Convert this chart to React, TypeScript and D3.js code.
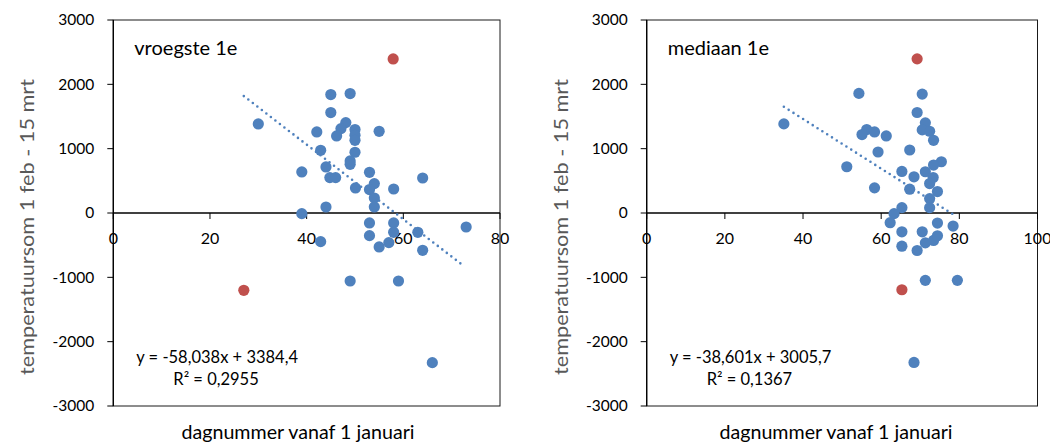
import React from "react";
import * as d3 from "d3";

// ---- data ----
const yTicks = [-3000, -2000, -1000, 0, 1000, 2000, 3000];
const leftXTicks = [0, 20, 40, 60, 80];
const rightXTicks = [0, 20, 40, 60, 80, 100];

// left: "vroegste 1e"
const leftX = [45, 49, 45, 48.1, 47.1, 46.2, 42.1, 50, 50, 50, 55, 50, 42.9, 49, 49, 39, 44, 44.8, 46, 53, 54, 50.1, 53, 54, 58, 64, 54, 44, 39, 30,
  53, 58, 53, 58, 42.9, 55, 57, 63, 64, 73, 49, 59, 66];
const leftY = [1841, 1857, 1561, 1405, 1312, 1198, 1260, 1297, 1208, 1130, 1270, 944, 975, 809, 757, 638, 716, 550, 550, 633, 457, 389, 364, 233, 373, 544, 93, 93, -10, 1384,
  -155, -155, -352, -300, -445, -528, -460, -300, -580, -218, -1057, -1057, -2326];
const leftRedX = [57.9, 27];
const leftRedY = [2395, -1202];

// right: "mediaan 1e"
const rightX = [54.3, 70.5, 69.2, 71.3, 56.3, 55.1, 58.3, 61.3, 70.5, 72.4, 73.4, 59.2, 67.3, 51.2, 75.4, 73.4, 65.3, 71.3, 68.4, 73.3, 72.4, 58.3, 67.3, 74.4, 72.4, 72.4, 65.3, 63.3, 35.1,
  62.3, 65.3, 65.3, 69.2, 70.5, 71.3, 73.4, 74.4, 74.4, 78.4, 71.3, 79.5, 68.4];
const rightY = [1859, 1848, 1562, 1401, 1297, 1219, 1260, 1198, 1292, 1271, 1130, 948, 979, 719, 797, 745, 646, 641, 563, 552, 458, 391, 370, 333, 224, 83, 83, -10, 1385,
  -151, -292, -516, -583, -292, -464, -427, -354, -156, -203, -1047, -1047, -2323];
const rightRedX = [69.2, 65.3];
const rightRedY = [2396, -1193];

const leftTrend = { slope: -58.038, intercept: 3384.4, from: 27, to: 72.3 };
const rightTrend = { slope: -38.601, intercept: 3005.7, from: 35.1, to: 78.4 };

const BLUE = "#4F81BD";
const RED = "#C0504D";
const FONT = "Lato, 'Open Sans', sans-serif";

type ChartProps = {
  left: number; right: number; xMax: number; xTicks: number[];
  xs: number[]; ys: number[]; rx: number[]; ry: number[];
  trend: { slope: number; intercept: number; from: number; to: number };
  title: string; eq: string; r2: string; xTitleX: number;
};

function Chart(p: ChartProps) {
  const top = 20, bottom = 406;
  const x = d3.scaleLinear().domain([0, p.xMax]).range([p.left, p.right]);
  const y = d3.scaleLinear().domain([-3000, 3000]).range([bottom, top]);
  const y0 = y(0);
  const tl = d3.line<number>().x((v) => x(v)).y((v) => y(p.trend.slope * v + p.trend.intercept));
  return (
    <g fontFamily={FONT}>
      <rect x={p.left} y={top} width={p.right - p.left} height={bottom - top} fill="none" stroke="#1a1a1a" strokeWidth={1} />
      {/* y axis */}
      <line x1={p.left} x2={p.left} y1={top} y2={bottom} stroke="#000" strokeWidth={1.3} />
      {yTicks.map((t) => (
        <g key={"y" + t}>
          <line x1={p.left - 6} x2={p.left} y1={y(t)} y2={y(t)} stroke="#000" strokeWidth={1} />
          <text x={p.left - 19} y={y(t)} dy="0.35em" textAnchor="end" fontSize={15.5} fill="#000">{t}</text>
        </g>
      ))}
      {/* x axis at 0 */}
      <line x1={p.left} x2={p.right} y1={y0} y2={y0} stroke="#000" strokeWidth={1.3} />
      {p.xTicks.map((t) => (
        <g key={"x" + t}>
          <line x1={x(t)} x2={x(t)} y1={y0} y2={y0 + 6} stroke="#000" strokeWidth={1} />
          <text x={x(t)} y={y0 + 25} dy="0.35em" textAnchor="middle" fontSize={16} fill="#000">{t}</text>
        </g>
      ))}
      {/* trend */}
      <path d={tl([p.trend.from, p.trend.to]) || ""} fill="none" stroke={BLUE} strokeWidth={2.6} strokeDasharray="0 5.7" strokeLinecap="round" />
      {/* points */}
      {p.xs.map((v, i) => (
        <circle key={"p" + i} cx={x(v)} cy={y(p.ys[i])} r={5.6} fill={BLUE} />
      ))}
      {p.rx.map((v, i) => (
        <circle key={"r" + i} cx={x(v)} cy={y(p.ry[i])} r={5.6} fill={RED} />
      ))}
      <text x={p.left + 21} y={55} fontSize={20} fill="#000">{p.title}</text>
      <text x={p.left + 23} y={357} dy="0.35em" fontSize={16.5} fill="#000">{p.eq}</text>
      <text x={p.left + 60} y={379} dy="0.35em" fontSize={16.5} fill="#000">{p.r2}</text>
      {/* axis titles */}
      <text transform={`translate(${p.left - 86},${(top + bottom) / 2 + 14}) rotate(-90)`} dy="0.35em" textAnchor="middle" fontSize={19.5} fill="#595959"
        textLength={296} lengthAdjust="spacingAndGlyphs">
        temperatuursom 1 feb  - 15 mrt
      </text>
      <text x={p.xTitleX} y={432} dy="0.35em" textAnchor="middle" fontSize={19} fill="#000" textLength={233} lengthAdjust="spacingAndGlyphs">dagnummer vanaf 1 januari</text>
    </g>
  );
}

export default function App() {
  return (
    <svg width={1050} height={444} style={{ position: "absolute", left: 0, top: 0, background: "#fff" }}>
      <rect width={1050} height={444} fill="#fff" />
      <Chart left={113.3} right={500} xMax={80} xTicks={leftXTicks} xs={leftX} ys={leftY} rx={leftRedX} ry={leftRedY}
        trend={leftTrend} title="vroegste 1e" eq="y = -58,038x + 3384,4" r2="R² = 0,2955" xTitleX={298} />
      <Chart left={646.7} right={1037.5} xMax={100} xTicks={rightXTicks} xs={rightX} ys={rightY} rx={rightRedX} ry={rightRedY}
        trend={rightTrend} title="mediaan 1e" eq="y = -38,601x + 3005,7" r2="R² = 0,1367" xTitleX={836} />
    </svg>
  );
}
